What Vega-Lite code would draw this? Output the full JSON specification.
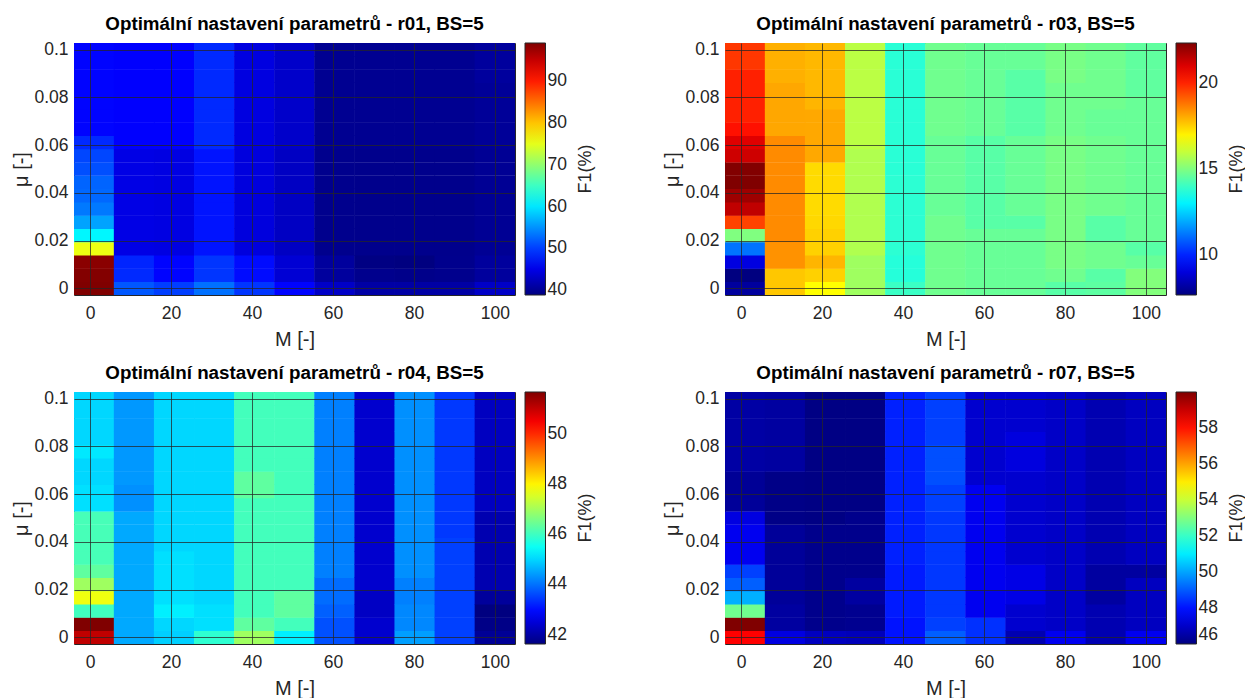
{
"$schema":"https://vega.github.io/schema/vega-lite/v6.json",
"background":"white",
"padding":{"left":11,"top":14,"right":5,"bottom":2},
"config":{
"font":"Liberation Sans",
"view":{"stroke":"#262626","strokeWidth":1},
"axis":{"labelFont":"Liberation Sans","labelFontSize":17.5,"labelColor":"#262626","titleFont":"Liberation Sans","titleFontSize":20,"titleFontWeight":"normal","titleColor":"#262626","grid":true,"gridColor":"#262626","gridOpacity":0.75,"gridWidth":1,"ticks":false,"domain":false,"zindex":1},
"title":{"font":"Liberation Sans","fontSize":18.8,"fontWeight":"bold","color":"#000000","offset":7},
"legend":{"orient":"right","offset":10,"gradientLength":252,"gradientThickness":20.5,"gradientStrokeColor":"#262626","gradientStrokeWidth":1,"labelFont":"Liberation Sans","labelFontSize":17.5,"labelColor":"#262626","labelOffset":6,"titleFont":"Liberation Sans","titleFontSize":18,"titleFontWeight":"normal","titleColor":"#262626","titleOrient":"right","titleAnchor":"middle"}
},
"datasets":{
"r01":[
{"M":1,"mu":0,"F":99.2},{"M":1,"mu":0.005556,"F":99.0},{"M":1,"mu":0.011111,"F":98.6},{"M":1,"mu":0.016667,"F":75.5},{"M":1,"mu":0.022222,"F":61.0},{"M":1,"mu":0.027778,"F":56.0},{"M":1,"mu":0.033333,"F":53.5},{"M":1,"mu":0.038889,"F":52.5},{"M":1,"mu":0.044444,"F":52.3},{"M":1,"mu":0.05,"F":51.0},{"M":1,"mu":0.055556,"F":50.5},{"M":1,"mu":0.061111,"F":48.8},{"M":1,"mu":0.066667,"F":46.5},{"M":1,"mu":0.072222,"F":46.5},{"M":1,"mu":0.077778,"F":46.5},{"M":1,"mu":0.083333,"F":46.5},{"M":1,"mu":0.088889,"F":46.5},{"M":1,"mu":0.094444,"F":46.5},{"M":1,"mu":0.1,"F":46.5},
{"M":10.9,"mu":0,"F":51.5},{"M":10.9,"mu":0.005556,"F":48.8},{"M":10.9,"mu":0.011111,"F":48.5},{"M":10.9,"mu":0.016667,"F":44.8},{"M":10.9,"mu":0.022222,"F":44.8},{"M":10.9,"mu":0.027778,"F":44.8},{"M":10.9,"mu":0.033333,"F":44.8},{"M":10.9,"mu":0.038889,"F":44.8},{"M":10.9,"mu":0.044444,"F":44.8},{"M":10.9,"mu":0.05,"F":44.8},{"M":10.9,"mu":0.055556,"F":44.8},{"M":10.9,"mu":0.061111,"F":46.3},{"M":10.9,"mu":0.066667,"F":46.3},{"M":10.9,"mu":0.072222,"F":46.3},{"M":10.9,"mu":0.077778,"F":46.3},{"M":10.9,"mu":0.083333,"F":46.3},{"M":10.9,"mu":0.088889,"F":46.3},{"M":10.9,"mu":0.094444,"F":46.3},{"M":10.9,"mu":0.1,"F":46.3},
{"M":20.8,"mu":0,"F":50.0},{"M":20.8,"mu":0.005556,"F":46.5},{"M":20.8,"mu":0.011111,"F":46.5},{"M":20.8,"mu":0.016667,"F":44.6},{"M":20.8,"mu":0.022222,"F":44.6},{"M":20.8,"mu":0.027778,"F":44.6},{"M":20.8,"mu":0.033333,"F":44.6},{"M":20.8,"mu":0.038889,"F":44.6},{"M":20.8,"mu":0.044444,"F":44.6},{"M":20.8,"mu":0.05,"F":44.6},{"M":20.8,"mu":0.055556,"F":44.6},{"M":20.8,"mu":0.061111,"F":46.3},{"M":20.8,"mu":0.066667,"F":46.3},{"M":20.8,"mu":0.072222,"F":46.3},{"M":20.8,"mu":0.077778,"F":46.3},{"M":20.8,"mu":0.083333,"F":46.3},{"M":20.8,"mu":0.088889,"F":46.3},{"M":20.8,"mu":0.094444,"F":46.3},{"M":20.8,"mu":0.1,"F":46.3},
{"M":30.7,"mu":0,"F":53.0},{"M":30.7,"mu":0.005556,"F":49.5},{"M":30.7,"mu":0.011111,"F":49.5},{"M":30.7,"mu":0.016667,"F":47.5},{"M":30.7,"mu":0.022222,"F":47.5},{"M":30.7,"mu":0.027778,"F":47.5},{"M":30.7,"mu":0.033333,"F":47.5},{"M":30.7,"mu":0.038889,"F":47.5},{"M":30.7,"mu":0.044444,"F":47.5},{"M":30.7,"mu":0.05,"F":47.5},{"M":30.7,"mu":0.055556,"F":47.5},{"M":30.7,"mu":0.061111,"F":48.8},{"M":30.7,"mu":0.066667,"F":48.8},{"M":30.7,"mu":0.072222,"F":48.8},{"M":30.7,"mu":0.077778,"F":48.8},{"M":30.7,"mu":0.083333,"F":48.8},{"M":30.7,"mu":0.088889,"F":48.8},{"M":30.7,"mu":0.094444,"F":48.8},{"M":30.7,"mu":0.1,"F":48.8},
{"M":40.6,"mu":0,"F":49.5},{"M":40.6,"mu":0.005556,"F":47.0},{"M":40.6,"mu":0.011111,"F":47.0},{"M":40.6,"mu":0.016667,"F":44.3},{"M":40.6,"mu":0.022222,"F":44.3},{"M":40.6,"mu":0.027778,"F":44.3},{"M":40.6,"mu":0.033333,"F":44.3},{"M":40.6,"mu":0.038889,"F":44.3},{"M":40.6,"mu":0.044444,"F":44.3},{"M":40.6,"mu":0.05,"F":44.3},{"M":40.6,"mu":0.055556,"F":44.3},{"M":40.6,"mu":0.061111,"F":44.5},{"M":40.6,"mu":0.066667,"F":44.5},{"M":40.6,"mu":0.072222,"F":44.5},{"M":40.6,"mu":0.077778,"F":44.5},{"M":40.6,"mu":0.083333,"F":44.5},{"M":40.6,"mu":0.088889,"F":44.5},{"M":40.6,"mu":0.094444,"F":44.5},{"M":40.6,"mu":0.1,"F":44.5},
{"M":50.5,"mu":0,"F":46.5},{"M":50.5,"mu":0.005556,"F":43.8},{"M":50.5,"mu":0.011111,"F":43.8},{"M":50.5,"mu":0.016667,"F":42.8},{"M":50.5,"mu":0.022222,"F":42.8},{"M":50.5,"mu":0.027778,"F":42.8},{"M":50.5,"mu":0.033333,"F":42.8},{"M":50.5,"mu":0.038889,"F":42.8},{"M":50.5,"mu":0.044444,"F":42.8},{"M":50.5,"mu":0.05,"F":42.8},{"M":50.5,"mu":0.055556,"F":42.8},{"M":50.5,"mu":0.061111,"F":43.2},{"M":50.5,"mu":0.066667,"F":43.2},{"M":50.5,"mu":0.072222,"F":43.2},{"M":50.5,"mu":0.077778,"F":43.2},{"M":50.5,"mu":0.083333,"F":43.2},{"M":50.5,"mu":0.088889,"F":43.2},{"M":50.5,"mu":0.094444,"F":43.2},{"M":50.5,"mu":0.1,"F":43.2},
{"M":60.4,"mu":0,"F":43.0},{"M":60.4,"mu":0.005556,"F":40.5},{"M":60.4,"mu":0.011111,"F":40.5},{"M":60.4,"mu":0.016667,"F":39.6},{"M":60.4,"mu":0.022222,"F":39.6},{"M":60.4,"mu":0.027778,"F":39.6},{"M":60.4,"mu":0.033333,"F":39.6},{"M":60.4,"mu":0.038889,"F":39.6},{"M":60.4,"mu":0.044444,"F":39.6},{"M":60.4,"mu":0.05,"F":39.6},{"M":60.4,"mu":0.055556,"F":39.6},{"M":60.4,"mu":0.061111,"F":39.8},{"M":60.4,"mu":0.066667,"F":39.8},{"M":60.4,"mu":0.072222,"F":39.8},{"M":60.4,"mu":0.077778,"F":39.8},{"M":60.4,"mu":0.083333,"F":39.8},{"M":60.4,"mu":0.088889,"F":39.8},{"M":60.4,"mu":0.094444,"F":39.8},{"M":60.4,"mu":0.1,"F":39.8},
{"M":70.3,"mu":0,"F":41.0},{"M":70.3,"mu":0.005556,"F":39.6},{"M":70.3,"mu":0.011111,"F":39.0},{"M":70.3,"mu":0.016667,"F":39.5},{"M":70.3,"mu":0.022222,"F":39.5},{"M":70.3,"mu":0.027778,"F":39.5},{"M":70.3,"mu":0.033333,"F":39.5},{"M":70.3,"mu":0.038889,"F":39.5},{"M":70.3,"mu":0.044444,"F":39.5},{"M":70.3,"mu":0.05,"F":39.5},{"M":70.3,"mu":0.055556,"F":39.5},{"M":70.3,"mu":0.061111,"F":39.8},{"M":70.3,"mu":0.066667,"F":39.8},{"M":70.3,"mu":0.072222,"F":39.8},{"M":70.3,"mu":0.077778,"F":39.8},{"M":70.3,"mu":0.083333,"F":39.8},{"M":70.3,"mu":0.088889,"F":39.8},{"M":70.3,"mu":0.094444,"F":39.8},{"M":70.3,"mu":0.1,"F":39.8},
{"M":80.2,"mu":0,"F":41.0},{"M":80.2,"mu":0.005556,"F":39.4},{"M":80.2,"mu":0.011111,"F":38.8},{"M":80.2,"mu":0.016667,"F":39.5},{"M":80.2,"mu":0.022222,"F":39.5},{"M":80.2,"mu":0.027778,"F":39.5},{"M":80.2,"mu":0.033333,"F":39.5},{"M":80.2,"mu":0.038889,"F":39.5},{"M":80.2,"mu":0.044444,"F":39.5},{"M":80.2,"mu":0.05,"F":39.5},{"M":80.2,"mu":0.055556,"F":39.5},{"M":80.2,"mu":0.061111,"F":39.8},{"M":80.2,"mu":0.066667,"F":39.8},{"M":80.2,"mu":0.072222,"F":39.8},{"M":80.2,"mu":0.077778,"F":39.8},{"M":80.2,"mu":0.083333,"F":39.8},{"M":80.2,"mu":0.088889,"F":39.8},{"M":80.2,"mu":0.094444,"F":39.8},{"M":80.2,"mu":0.1,"F":39.8},
{"M":90.1,"mu":0,"F":41.0},{"M":90.1,"mu":0.005556,"F":39.6},{"M":90.1,"mu":0.011111,"F":39.6},{"M":90.1,"mu":0.016667,"F":39.5},{"M":90.1,"mu":0.022222,"F":39.5},{"M":90.1,"mu":0.027778,"F":39.5},{"M":90.1,"mu":0.033333,"F":39.5},{"M":90.1,"mu":0.038889,"F":39.5},{"M":90.1,"mu":0.044444,"F":39.5},{"M":90.1,"mu":0.05,"F":39.5},{"M":90.1,"mu":0.055556,"F":39.5},{"M":90.1,"mu":0.061111,"F":39.8},{"M":90.1,"mu":0.066667,"F":39.8},{"M":90.1,"mu":0.072222,"F":39.8},{"M":90.1,"mu":0.077778,"F":39.8},{"M":90.1,"mu":0.083333,"F":39.8},{"M":90.1,"mu":0.088889,"F":39.8},{"M":90.1,"mu":0.094444,"F":39.8},{"M":90.1,"mu":0.1,"F":39.8},
{"M":100,"mu":0,"F":43.0},{"M":100,"mu":0.005556,"F":40.5},{"M":100,"mu":0.011111,"F":40.5},{"M":100,"mu":0.016667,"F":40.0},{"M":100,"mu":0.022222,"F":40.0},{"M":100,"mu":0.027778,"F":40.0},{"M":100,"mu":0.033333,"F":40.0},{"M":100,"mu":0.038889,"F":40.0},{"M":100,"mu":0.044444,"F":40.0},{"M":100,"mu":0.05,"F":40.0},{"M":100,"mu":0.055556,"F":40.0},{"M":100,"mu":0.061111,"F":40.2},{"M":100,"mu":0.066667,"F":40.2},{"M":100,"mu":0.072222,"F":40.2},{"M":100,"mu":0.077778,"F":40.2},{"M":100,"mu":0.083333,"F":40.2},{"M":100,"mu":0.088889,"F":40.5},{"M":100,"mu":0.094444,"F":40.5},{"M":100,"mu":0.1,"F":40.5}
],
"r03":[
{"M":1,"mu":0,"F":8.1},{"M":1,"mu":0.005556,"F":7.67},{"M":1,"mu":0.011111,"F":9.06},{"M":1,"mu":0.016667,"F":11.15},{"M":1,"mu":0.022222,"F":15.0},{"M":1,"mu":0.027778,"F":19.55},{"M":1,"mu":0.033333,"F":21.4},{"M":1,"mu":0.038889,"F":21.9},{"M":1,"mu":0.044444,"F":22.33},{"M":1,"mu":0.05,"F":22.3},{"M":1,"mu":0.055556,"F":21.2},{"M":1,"mu":0.061111,"F":20.94},{"M":1,"mu":0.066667,"F":20.27},{"M":1,"mu":0.072222,"F":20.04},{"M":1,"mu":0.077778,"F":20.04},{"M":1,"mu":0.083333,"F":20.04},{"M":1,"mu":0.088889,"F":20.04},{"M":1,"mu":0.094444,"F":19.7},{"M":1,"mu":0.1,"F":19.7},
{"M":10.9,"mu":0,"F":17.64},{"M":10.9,"mu":0.005556,"F":17.64},{"M":10.9,"mu":0.011111,"F":18.4},{"M":10.9,"mu":0.016667,"F":18.4},{"M":10.9,"mu":0.022222,"F":18.5},{"M":10.9,"mu":0.027778,"F":18.5},{"M":10.9,"mu":0.033333,"F":18.5},{"M":10.9,"mu":0.038889,"F":18.5},{"M":10.9,"mu":0.044444,"F":18.5},{"M":10.9,"mu":0.05,"F":18.5},{"M":10.9,"mu":0.055556,"F":18.5},{"M":10.9,"mu":0.061111,"F":18.5},{"M":10.9,"mu":0.066667,"F":18.1},{"M":10.9,"mu":0.072222,"F":18.1},{"M":10.9,"mu":0.077778,"F":18.1},{"M":10.9,"mu":0.083333,"F":18.1},{"M":10.9,"mu":0.088889,"F":17.97},{"M":10.9,"mu":0.094444,"F":17.97},{"M":10.9,"mu":0.1,"F":17.97},
{"M":20.8,"mu":0,"F":16.83},{"M":20.8,"mu":0.005556,"F":17.5},{"M":20.8,"mu":0.011111,"F":17.9},{"M":20.8,"mu":0.016667,"F":17.5},{"M":20.8,"mu":0.022222,"F":17.5},{"M":20.8,"mu":0.027778,"F":17.4},{"M":20.8,"mu":0.033333,"F":17.35},{"M":20.8,"mu":0.038889,"F":17.35},{"M":20.8,"mu":0.044444,"F":17.35},{"M":20.8,"mu":0.05,"F":17.35},{"M":20.8,"mu":0.055556,"F":18.08},{"M":20.8,"mu":0.061111,"F":18.08},{"M":20.8,"mu":0.066667,"F":18.08},{"M":20.8,"mu":0.072222,"F":18.08},{"M":20.8,"mu":0.077778,"F":17.9},{"M":20.8,"mu":0.083333,"F":17.85},{"M":20.8,"mu":0.088889,"F":17.85},{"M":20.8,"mu":0.094444,"F":17.85},{"M":20.8,"mu":0.1,"F":17.85},
{"M":30.7,"mu":0,"F":15.45},{"M":30.7,"mu":0.005556,"F":15.45},{"M":30.7,"mu":0.011111,"F":15.45},{"M":30.7,"mu":0.016667,"F":15.7},{"M":30.7,"mu":0.022222,"F":15.7},{"M":30.7,"mu":0.027778,"F":15.7},{"M":30.7,"mu":0.033333,"F":15.7},{"M":30.7,"mu":0.038889,"F":15.7},{"M":30.7,"mu":0.044444,"F":15.7},{"M":30.7,"mu":0.05,"F":15.7},{"M":30.7,"mu":0.055556,"F":15.7},{"M":30.7,"mu":0.061111,"F":15.85},{"M":30.7,"mu":0.066667,"F":15.85},{"M":30.7,"mu":0.072222,"F":15.85},{"M":30.7,"mu":0.077778,"F":15.85},{"M":30.7,"mu":0.083333,"F":15.85},{"M":30.7,"mu":0.088889,"F":15.85},{"M":30.7,"mu":0.094444,"F":15.85},{"M":30.7,"mu":0.1,"F":15.85},
{"M":40.6,"mu":0,"F":14.0},{"M":40.6,"mu":0.005556,"F":13.7},{"M":40.6,"mu":0.011111,"F":13.7},{"M":40.6,"mu":0.016667,"F":13.8},{"M":40.6,"mu":0.022222,"F":13.8},{"M":40.6,"mu":0.027778,"F":13.8},{"M":40.6,"mu":0.033333,"F":13.8},{"M":40.6,"mu":0.038889,"F":13.8},{"M":40.6,"mu":0.044444,"F":13.8},{"M":40.6,"mu":0.05,"F":13.75},{"M":40.6,"mu":0.055556,"F":13.75},{"M":40.6,"mu":0.061111,"F":13.75},{"M":40.6,"mu":0.066667,"F":13.75},{"M":40.6,"mu":0.072222,"F":13.75},{"M":40.6,"mu":0.077778,"F":13.75},{"M":40.6,"mu":0.083333,"F":13.75},{"M":40.6,"mu":0.088889,"F":13.75},{"M":40.6,"mu":0.094444,"F":13.75},{"M":40.6,"mu":0.1,"F":13.75},
{"M":50.5,"mu":0,"F":14.78},{"M":50.5,"mu":0.005556,"F":14.78},{"M":50.5,"mu":0.011111,"F":14.78},{"M":50.5,"mu":0.016667,"F":14.78},{"M":50.5,"mu":0.022222,"F":14.78},{"M":50.5,"mu":0.027778,"F":14.78},{"M":50.5,"mu":0.033333,"F":14.66},{"M":50.5,"mu":0.038889,"F":14.66},{"M":50.5,"mu":0.044444,"F":14.66},{"M":50.5,"mu":0.05,"F":14.66},{"M":50.5,"mu":0.055556,"F":14.66},{"M":50.5,"mu":0.061111,"F":14.66},{"M":50.5,"mu":0.066667,"F":14.78},{"M":50.5,"mu":0.072222,"F":14.78},{"M":50.5,"mu":0.077778,"F":14.78},{"M":50.5,"mu":0.083333,"F":14.78},{"M":50.5,"mu":0.088889,"F":14.78},{"M":50.5,"mu":0.094444,"F":14.78},{"M":50.5,"mu":0.1,"F":14.78},
{"M":60.4,"mu":0,"F":14.66},{"M":60.4,"mu":0.005556,"F":14.66},{"M":60.4,"mu":0.011111,"F":14.66},{"M":60.4,"mu":0.016667,"F":14.66},{"M":60.4,"mu":0.022222,"F":14.66},{"M":60.4,"mu":0.027778,"F":14.43},{"M":60.4,"mu":0.033333,"F":14.43},{"M":60.4,"mu":0.038889,"F":14.43},{"M":60.4,"mu":0.044444,"F":14.43},{"M":60.4,"mu":0.05,"F":14.43},{"M":60.4,"mu":0.055556,"F":14.43},{"M":60.4,"mu":0.061111,"F":14.43},{"M":60.4,"mu":0.066667,"F":14.66},{"M":60.4,"mu":0.072222,"F":14.66},{"M":60.4,"mu":0.077778,"F":14.66},{"M":60.4,"mu":0.083333,"F":14.66},{"M":60.4,"mu":0.088889,"F":14.66},{"M":60.4,"mu":0.094444,"F":14.66},{"M":60.4,"mu":0.1,"F":14.66},
{"M":70.3,"mu":0,"F":14.66},{"M":70.3,"mu":0.005556,"F":14.66},{"M":70.3,"mu":0.011111,"F":14.66},{"M":70.3,"mu":0.016667,"F":14.66},{"M":70.3,"mu":0.022222,"F":14.66},{"M":70.3,"mu":0.027778,"F":14.43},{"M":70.3,"mu":0.033333,"F":14.66},{"M":70.3,"mu":0.038889,"F":14.66},{"M":70.3,"mu":0.044444,"F":14.66},{"M":70.3,"mu":0.05,"F":14.66},{"M":70.3,"mu":0.055556,"F":14.66},{"M":70.3,"mu":0.061111,"F":14.66},{"M":70.3,"mu":0.066667,"F":14.43},{"M":70.3,"mu":0.072222,"F":14.43},{"M":70.3,"mu":0.077778,"F":14.43},{"M":70.3,"mu":0.083333,"F":14.43},{"M":70.3,"mu":0.088889,"F":14.43},{"M":70.3,"mu":0.094444,"F":14.66},{"M":70.3,"mu":0.1,"F":14.66},
{"M":80.2,"mu":0,"F":14.43},{"M":80.2,"mu":0.005556,"F":14.78},{"M":80.2,"mu":0.011111,"F":14.9},{"M":80.2,"mu":0.016667,"F":14.9},{"M":80.2,"mu":0.022222,"F":14.9},{"M":80.2,"mu":0.027778,"F":14.9},{"M":80.2,"mu":0.033333,"F":14.9},{"M":80.2,"mu":0.038889,"F":14.9},{"M":80.2,"mu":0.044444,"F":14.9},{"M":80.2,"mu":0.05,"F":14.9},{"M":80.2,"mu":0.055556,"F":14.9},{"M":80.2,"mu":0.061111,"F":14.9},{"M":80.2,"mu":0.066667,"F":14.78},{"M":80.2,"mu":0.072222,"F":14.78},{"M":80.2,"mu":0.077778,"F":14.78},{"M":80.2,"mu":0.083333,"F":14.78},{"M":80.2,"mu":0.088889,"F":14.9},{"M":80.2,"mu":0.094444,"F":14.9},{"M":80.2,"mu":0.1,"F":14.9},
{"M":90.1,"mu":0,"F":14.5},{"M":90.1,"mu":0.005556,"F":14.43},{"M":90.1,"mu":0.011111,"F":14.78},{"M":90.1,"mu":0.016667,"F":14.78},{"M":90.1,"mu":0.022222,"F":14.43},{"M":90.1,"mu":0.027778,"F":14.43},{"M":90.1,"mu":0.033333,"F":14.78},{"M":90.1,"mu":0.038889,"F":14.78},{"M":90.1,"mu":0.044444,"F":14.78},{"M":90.1,"mu":0.05,"F":14.78},{"M":90.1,"mu":0.055556,"F":14.78},{"M":90.1,"mu":0.061111,"F":14.78},{"M":90.1,"mu":0.066667,"F":14.66},{"M":90.1,"mu":0.072222,"F":14.66},{"M":90.1,"mu":0.077778,"F":14.78},{"M":90.1,"mu":0.083333,"F":14.78},{"M":90.1,"mu":0.088889,"F":14.78},{"M":90.1,"mu":0.094444,"F":14.78},{"M":90.1,"mu":0.1,"F":14.78},
{"M":100,"mu":0,"F":15.05},{"M":100,"mu":0.005556,"F":15.05},{"M":100,"mu":0.011111,"F":14.66},{"M":100,"mu":0.016667,"F":14.43},{"M":100,"mu":0.022222,"F":14.66},{"M":100,"mu":0.027778,"F":14.66},{"M":100,"mu":0.033333,"F":14.66},{"M":100,"mu":0.038889,"F":14.66},{"M":100,"mu":0.044444,"F":14.66},{"M":100,"mu":0.05,"F":14.66},{"M":100,"mu":0.055556,"F":14.66},{"M":100,"mu":0.061111,"F":14.66},{"M":100,"mu":0.066667,"F":14.66},{"M":100,"mu":0.072222,"F":14.66},{"M":100,"mu":0.077778,"F":14.66},{"M":100,"mu":0.083333,"F":14.55},{"M":100,"mu":0.088889,"F":14.55},{"M":100,"mu":0.094444,"F":14.55},{"M":100,"mu":0.1,"F":14.55}
],
"r04":[
{"M":1,"mu":0,"F":51.03},{"M":1,"mu":0.005556,"F":51.66},{"M":1,"mu":0.011111,"F":46.02},{"M":1,"mu":0.016667,"F":47.75},{"M":1,"mu":0.022222,"F":46.95},{"M":1,"mu":0.027778,"F":46.33},{"M":1,"mu":0.033333,"F":46.09},{"M":1,"mu":0.038889,"F":46.09},{"M":1,"mu":0.044444,"F":46.09},{"M":1,"mu":0.05,"F":46.09},{"M":1,"mu":0.055556,"F":45.09},{"M":1,"mu":0.061111,"F":45.09},{"M":1,"mu":0.066667,"F":45.0},{"M":1,"mu":0.072222,"F":45.0},{"M":1,"mu":0.077778,"F":45.17},{"M":1,"mu":0.083333,"F":45.0},{"M":1,"mu":0.088889,"F":45.0},{"M":1,"mu":0.094444,"F":45.0},{"M":1,"mu":0.1,"F":45.0},
{"M":10.9,"mu":0,"F":44.55},{"M":10.9,"mu":0.005556,"F":44.55},{"M":10.9,"mu":0.011111,"F":44.55},{"M":10.9,"mu":0.016667,"F":44.55},{"M":10.9,"mu":0.022222,"F":44.55},{"M":10.9,"mu":0.027778,"F":44.55},{"M":10.9,"mu":0.033333,"F":44.55},{"M":10.9,"mu":0.038889,"F":44.55},{"M":10.9,"mu":0.044444,"F":44.55},{"M":10.9,"mu":0.05,"F":44.55},{"M":10.9,"mu":0.055556,"F":44.3},{"M":10.9,"mu":0.061111,"F":44.3},{"M":10.9,"mu":0.066667,"F":44.38},{"M":10.9,"mu":0.072222,"F":44.38},{"M":10.9,"mu":0.077778,"F":44.38},{"M":10.9,"mu":0.083333,"F":44.38},{"M":10.9,"mu":0.088889,"F":44.38},{"M":10.9,"mu":0.094444,"F":44.38},{"M":10.9,"mu":0.1,"F":44.38},
{"M":20.8,"mu":0,"F":44.93},{"M":20.8,"mu":0.005556,"F":45.0},{"M":20.8,"mu":0.011111,"F":45.24},{"M":20.8,"mu":0.016667,"F":45.09},{"M":20.8,"mu":0.022222,"F":45.09},{"M":20.8,"mu":0.027778,"F":45.09},{"M":20.8,"mu":0.033333,"F":45.09},{"M":20.8,"mu":0.038889,"F":45.0},{"M":20.8,"mu":0.044444,"F":45.0},{"M":20.8,"mu":0.05,"F":45.0},{"M":20.8,"mu":0.055556,"F":45.0},{"M":20.8,"mu":0.061111,"F":45.0},{"M":20.8,"mu":0.066667,"F":45.0},{"M":20.8,"mu":0.072222,"F":45.0},{"M":20.8,"mu":0.077778,"F":45.0},{"M":20.8,"mu":0.083333,"F":45.0},{"M":20.8,"mu":0.088889,"F":45.0},{"M":20.8,"mu":0.094444,"F":45.0},{"M":20.8,"mu":0.1,"F":45.0},
{"M":30.7,"mu":0,"F":45.84},{"M":30.7,"mu":0.005556,"F":45.09},{"M":30.7,"mu":0.011111,"F":45.09},{"M":30.7,"mu":0.016667,"F":45.0},{"M":30.7,"mu":0.022222,"F":45.0},{"M":30.7,"mu":0.027778,"F":45.0},{"M":30.7,"mu":0.033333,"F":45.0},{"M":30.7,"mu":0.038889,"F":45.0},{"M":30.7,"mu":0.044444,"F":45.0},{"M":30.7,"mu":0.05,"F":45.0},{"M":30.7,"mu":0.055556,"F":45.0},{"M":30.7,"mu":0.061111,"F":45.0},{"M":30.7,"mu":0.066667,"F":45.0},{"M":30.7,"mu":0.072222,"F":45.0},{"M":30.7,"mu":0.077778,"F":45.0},{"M":30.7,"mu":0.083333,"F":45.0},{"M":30.7,"mu":0.088889,"F":45.0},{"M":30.7,"mu":0.094444,"F":45.0},{"M":30.7,"mu":0.1,"F":45.0},
{"M":40.6,"mu":0,"F":46.95},{"M":40.6,"mu":0.005556,"F":46.33},{"M":40.6,"mu":0.011111,"F":46.05},{"M":40.6,"mu":0.016667,"F":46.05},{"M":40.6,"mu":0.022222,"F":46.05},{"M":40.6,"mu":0.027778,"F":46.05},{"M":40.6,"mu":0.033333,"F":46.05},{"M":40.6,"mu":0.038889,"F":46.05},{"M":40.6,"mu":0.044444,"F":46.05},{"M":40.6,"mu":0.05,"F":46.05},{"M":40.6,"mu":0.055556,"F":46.05},{"M":40.6,"mu":0.061111,"F":46.33},{"M":40.6,"mu":0.066667,"F":46.33},{"M":40.6,"mu":0.072222,"F":46.05},{"M":40.6,"mu":0.077778,"F":46.05},{"M":40.6,"mu":0.083333,"F":46.05},{"M":40.6,"mu":0.088889,"F":46.05},{"M":40.6,"mu":0.094444,"F":46.05},{"M":40.6,"mu":0.1,"F":46.05},
{"M":50.5,"mu":0,"F":45.24},{"M":50.5,"mu":0.005556,"F":46.05},{"M":50.5,"mu":0.011111,"F":46.33},{"M":50.5,"mu":0.016667,"F":46.33},{"M":50.5,"mu":0.022222,"F":46.05},{"M":50.5,"mu":0.027778,"F":46.05},{"M":50.5,"mu":0.033333,"F":46.05},{"M":50.5,"mu":0.038889,"F":46.05},{"M":50.5,"mu":0.044444,"F":46.05},{"M":50.5,"mu":0.05,"F":46.05},{"M":50.5,"mu":0.055556,"F":46.05},{"M":50.5,"mu":0.061111,"F":46.05},{"M":50.5,"mu":0.066667,"F":46.05},{"M":50.5,"mu":0.072222,"F":46.05},{"M":50.5,"mu":0.077778,"F":46.05},{"M":50.5,"mu":0.083333,"F":46.05},{"M":50.5,"mu":0.088889,"F":46.05},{"M":50.5,"mu":0.094444,"F":46.05},{"M":50.5,"mu":0.1,"F":46.05},
{"M":60.4,"mu":0,"F":43.67},{"M":60.4,"mu":0.005556,"F":43.67},{"M":60.4,"mu":0.011111,"F":43.83},{"M":60.4,"mu":0.016667,"F":43.95},{"M":60.4,"mu":0.022222,"F":43.95},{"M":60.4,"mu":0.027778,"F":44.14},{"M":60.4,"mu":0.033333,"F":44.14},{"M":60.4,"mu":0.038889,"F":44.14},{"M":60.4,"mu":0.044444,"F":44.14},{"M":60.4,"mu":0.05,"F":44.14},{"M":60.4,"mu":0.055556,"F":44.14},{"M":60.4,"mu":0.061111,"F":44.14},{"M":60.4,"mu":0.066667,"F":44.14},{"M":60.4,"mu":0.072222,"F":44.14},{"M":60.4,"mu":0.077778,"F":44.14},{"M":60.4,"mu":0.083333,"F":44.14},{"M":60.4,"mu":0.088889,"F":44.14},{"M":60.4,"mu":0.094444,"F":44.14},{"M":60.4,"mu":0.1,"F":44.14},
{"M":70.3,"mu":0,"F":42.4},{"M":70.3,"mu":0.005556,"F":42.4},{"M":70.3,"mu":0.011111,"F":42.3},{"M":70.3,"mu":0.016667,"F":42.3},{"M":70.3,"mu":0.022222,"F":42.4},{"M":70.3,"mu":0.027778,"F":42.4},{"M":70.3,"mu":0.033333,"F":42.4},{"M":70.3,"mu":0.038889,"F":42.4},{"M":70.3,"mu":0.044444,"F":42.4},{"M":70.3,"mu":0.05,"F":42.4},{"M":70.3,"mu":0.055556,"F":42.4},{"M":70.3,"mu":0.061111,"F":42.4},{"M":70.3,"mu":0.066667,"F":42.4},{"M":70.3,"mu":0.072222,"F":42.4},{"M":70.3,"mu":0.077778,"F":42.4},{"M":70.3,"mu":0.083333,"F":42.4},{"M":70.3,"mu":0.088889,"F":42.4},{"M":70.3,"mu":0.094444,"F":42.4},{"M":70.3,"mu":0.1,"F":42.4},
{"M":80.2,"mu":0,"F":44.45},{"M":80.2,"mu":0.005556,"F":44.22},{"M":80.2,"mu":0.011111,"F":44.22},{"M":80.2,"mu":0.016667,"F":44.14},{"M":80.2,"mu":0.022222,"F":44.14},{"M":80.2,"mu":0.027778,"F":44.3},{"M":80.2,"mu":0.033333,"F":44.3},{"M":80.2,"mu":0.038889,"F":44.3},{"M":80.2,"mu":0.044444,"F":44.3},{"M":80.2,"mu":0.05,"F":44.3},{"M":80.2,"mu":0.055556,"F":44.3},{"M":80.2,"mu":0.061111,"F":44.3},{"M":80.2,"mu":0.066667,"F":44.3},{"M":80.2,"mu":0.072222,"F":44.3},{"M":80.2,"mu":0.077778,"F":44.3},{"M":80.2,"mu":0.083333,"F":44.3},{"M":80.2,"mu":0.088889,"F":44.3},{"M":80.2,"mu":0.094444,"F":44.3},{"M":80.2,"mu":0.1,"F":44.3},
{"M":90.1,"mu":0,"F":43.51},{"M":90.1,"mu":0.005556,"F":43.51},{"M":90.1,"mu":0.011111,"F":43.51},{"M":90.1,"mu":0.016667,"F":43.51},{"M":90.1,"mu":0.022222,"F":43.51},{"M":90.1,"mu":0.027778,"F":43.51},{"M":90.1,"mu":0.033333,"F":43.51},{"M":90.1,"mu":0.038889,"F":43.51},{"M":90.1,"mu":0.044444,"F":43.43},{"M":90.1,"mu":0.05,"F":43.43},{"M":90.1,"mu":0.055556,"F":43.43},{"M":90.1,"mu":0.061111,"F":43.43},{"M":90.1,"mu":0.066667,"F":43.43},{"M":90.1,"mu":0.072222,"F":43.43},{"M":90.1,"mu":0.077778,"F":43.43},{"M":90.1,"mu":0.083333,"F":43.43},{"M":90.1,"mu":0.088889,"F":43.43},{"M":90.1,"mu":0.094444,"F":43.43},{"M":90.1,"mu":0.1,"F":43.43},
{"M":100,"mu":0,"F":41.85},{"M":100,"mu":0.005556,"F":41.7},{"M":100,"mu":0.011111,"F":41.63},{"M":100,"mu":0.016667,"F":41.9},{"M":100,"mu":0.022222,"F":42.1},{"M":100,"mu":0.027778,"F":42.1},{"M":100,"mu":0.033333,"F":42.1},{"M":100,"mu":0.038889,"F":42.1},{"M":100,"mu":0.044444,"F":42.1},{"M":100,"mu":0.05,"F":42.1},{"M":100,"mu":0.055556,"F":42.26},{"M":100,"mu":0.061111,"F":42.26},{"M":100,"mu":0.066667,"F":42.26},{"M":100,"mu":0.072222,"F":42.26},{"M":100,"mu":0.077778,"F":42.26},{"M":100,"mu":0.083333,"F":42.26},{"M":100,"mu":0.088889,"F":42.26},{"M":100,"mu":0.094444,"F":42.26},{"M":100,"mu":0.1,"F":42.26}
],
"r07":[
{"M":1,"mu":0,"F":58.25},{"M":1,"mu":0.005556,"F":60.0},{"M":1,"mu":0.011111,"F":52.79},{"M":1,"mu":0.016667,"F":50.16},{"M":1,"mu":0.022222,"F":49.06},{"M":1,"mu":0.027778,"F":48.63},{"M":1,"mu":0.033333,"F":47.54},{"M":1,"mu":0.038889,"F":47.54},{"M":1,"mu":0.044444,"F":47.54},{"M":1,"mu":0.05,"F":47.33},{"M":1,"mu":0.055556,"F":46.35},{"M":1,"mu":0.061111,"F":46.3},{"M":1,"mu":0.066667,"F":46.3},{"M":1,"mu":0.072222,"F":46.5},{"M":1,"mu":0.077778,"F":46.5},{"M":1,"mu":0.083333,"F":46.5},{"M":1,"mu":0.088889,"F":46.5},{"M":1,"mu":0.094444,"F":46.5},{"M":1,"mu":0.1,"F":46.5},
{"M":10.9,"mu":0,"F":47.33},{"M":10.9,"mu":0.005556,"F":46.44},{"M":10.9,"mu":0.011111,"F":46.44},{"M":10.9,"mu":0.016667,"F":46.35},{"M":10.9,"mu":0.022222,"F":46.35},{"M":10.9,"mu":0.027778,"F":46.35},{"M":10.9,"mu":0.033333,"F":46.35},{"M":10.9,"mu":0.038889,"F":46.35},{"M":10.9,"mu":0.044444,"F":46.35},{"M":10.9,"mu":0.05,"F":46.1},{"M":10.9,"mu":0.055556,"F":46.1},{"M":10.9,"mu":0.061111,"F":46.1},{"M":10.9,"mu":0.066667,"F":46.1},{"M":10.9,"mu":0.072222,"F":46.44},{"M":10.9,"mu":0.077778,"F":46.44},{"M":10.9,"mu":0.083333,"F":46.44},{"M":10.9,"mu":0.088889,"F":46.44},{"M":10.9,"mu":0.094444,"F":46.44},{"M":10.9,"mu":0.1,"F":46.44},
{"M":20.8,"mu":0,"F":46.875},{"M":20.8,"mu":0.005556,"F":46.17},{"M":20.8,"mu":0.011111,"F":46.17},{"M":20.8,"mu":0.016667,"F":46.17},{"M":20.8,"mu":0.022222,"F":46.17},{"M":20.8,"mu":0.027778,"F":46.17},{"M":20.8,"mu":0.033333,"F":46.17},{"M":20.8,"mu":0.038889,"F":46.17},{"M":20.8,"mu":0.044444,"F":46.17},{"M":20.8,"mu":0.05,"F":46.05},{"M":20.8,"mu":0.055556,"F":46.05},{"M":20.8,"mu":0.061111,"F":46.05},{"M":20.8,"mu":0.066667,"F":46.05},{"M":20.8,"mu":0.072222,"F":46.05},{"M":20.8,"mu":0.077778,"F":46.05},{"M":20.8,"mu":0.083333,"F":46.05},{"M":20.8,"mu":0.088889,"F":46.05},{"M":20.8,"mu":0.094444,"F":46.05},{"M":20.8,"mu":0.1,"F":46.05},
{"M":30.7,"mu":0,"F":46.8},{"M":30.7,"mu":0.005556,"F":46.22},{"M":30.7,"mu":0.011111,"F":46.22},{"M":30.7,"mu":0.016667,"F":46.44},{"M":30.7,"mu":0.022222,"F":46.44},{"M":30.7,"mu":0.027778,"F":46.17},{"M":30.7,"mu":0.033333,"F":46.17},{"M":30.7,"mu":0.038889,"F":46.17},{"M":30.7,"mu":0.044444,"F":46.17},{"M":30.7,"mu":0.05,"F":46.17},{"M":30.7,"mu":0.055556,"F":46.05},{"M":30.7,"mu":0.061111,"F":46.05},{"M":30.7,"mu":0.066667,"F":46.05},{"M":30.7,"mu":0.072222,"F":46.05},{"M":30.7,"mu":0.077778,"F":46.05},{"M":30.7,"mu":0.083333,"F":46.05},{"M":30.7,"mu":0.088889,"F":46.05},{"M":30.7,"mu":0.094444,"F":46.05},{"M":30.7,"mu":0.1,"F":46.05},
{"M":40.6,"mu":0,"F":48.0},{"M":40.6,"mu":0.005556,"F":48.0},{"M":40.6,"mu":0.011111,"F":48.1},{"M":40.6,"mu":0.016667,"F":48.1},{"M":40.6,"mu":0.022222,"F":48.1},{"M":40.6,"mu":0.027778,"F":48.1},{"M":40.6,"mu":0.033333,"F":48.19},{"M":40.6,"mu":0.038889,"F":48.19},{"M":40.6,"mu":0.044444,"F":48.19},{"M":40.6,"mu":0.05,"F":48.19},{"M":40.6,"mu":0.055556,"F":48.19},{"M":40.6,"mu":0.061111,"F":48.19},{"M":40.6,"mu":0.066667,"F":48.19},{"M":40.6,"mu":0.072222,"F":48.19},{"M":40.6,"mu":0.077778,"F":48.19},{"M":40.6,"mu":0.083333,"F":48.19},{"M":40.6,"mu":0.088889,"F":48.19},{"M":40.6,"mu":0.094444,"F":48.19},{"M":40.6,"mu":0.1,"F":48.19},
{"M":50.5,"mu":0,"F":49.06},{"M":50.5,"mu":0.005556,"F":48.63},{"M":50.5,"mu":0.011111,"F":48.5},{"M":50.5,"mu":0.016667,"F":48.5},{"M":50.5,"mu":0.022222,"F":48.5},{"M":50.5,"mu":0.027778,"F":48.5},{"M":50.5,"mu":0.033333,"F":48.5},{"M":50.5,"mu":0.038889,"F":48.5},{"M":50.5,"mu":0.044444,"F":48.5},{"M":50.5,"mu":0.05,"F":48.5},{"M":50.5,"mu":0.055556,"F":48.63},{"M":50.5,"mu":0.061111,"F":48.63},{"M":50.5,"mu":0.066667,"F":48.84},{"M":50.5,"mu":0.072222,"F":48.84},{"M":50.5,"mu":0.077778,"F":48.84},{"M":50.5,"mu":0.083333,"F":48.63},{"M":50.5,"mu":0.088889,"F":48.63},{"M":50.5,"mu":0.094444,"F":48.63},{"M":50.5,"mu":0.1,"F":48.63},
{"M":60.4,"mu":0,"F":48.41},{"M":60.4,"mu":0.005556,"F":48.41},{"M":60.4,"mu":0.011111,"F":47.54},{"M":60.4,"mu":0.016667,"F":47.54},{"M":60.4,"mu":0.022222,"F":47.54},{"M":60.4,"mu":0.027778,"F":47.54},{"M":60.4,"mu":0.033333,"F":47.54},{"M":60.4,"mu":0.038889,"F":47.54},{"M":60.4,"mu":0.044444,"F":47.54},{"M":60.4,"mu":0.05,"F":47.54},{"M":60.4,"mu":0.055556,"F":47.54},{"M":60.4,"mu":0.061111,"F":47.54},{"M":60.4,"mu":0.066667,"F":47.09},{"M":60.4,"mu":0.072222,"F":47.09},{"M":60.4,"mu":0.077778,"F":47.09},{"M":60.4,"mu":0.083333,"F":47.09},{"M":60.4,"mu":0.088889,"F":47.09},{"M":60.4,"mu":0.094444,"F":47.09},{"M":60.4,"mu":0.1,"F":47.09},
{"M":70.3,"mu":0,"F":46.67},{"M":70.3,"mu":0.005556,"F":47.09},{"M":70.3,"mu":0.011111,"F":47.09},{"M":70.3,"mu":0.016667,"F":47.4},{"M":70.3,"mu":0.022222,"F":47.4},{"M":70.3,"mu":0.027778,"F":47.4},{"M":70.3,"mu":0.033333,"F":47.09},{"M":70.3,"mu":0.038889,"F":47.09},{"M":70.3,"mu":0.044444,"F":47.09},{"M":70.3,"mu":0.05,"F":47.09},{"M":70.3,"mu":0.055556,"F":47.09},{"M":70.3,"mu":0.061111,"F":47.09},{"M":70.3,"mu":0.066667,"F":47.09},{"M":70.3,"mu":0.072222,"F":47.3},{"M":70.3,"mu":0.077778,"F":47.3},{"M":70.3,"mu":0.083333,"F":47.3},{"M":70.3,"mu":0.088889,"F":47.09},{"M":70.3,"mu":0.094444,"F":47.09},{"M":70.3,"mu":0.1,"F":47.09},
{"M":80.2,"mu":0,"F":47.54},{"M":80.2,"mu":0.005556,"F":46.98},{"M":80.2,"mu":0.011111,"F":46.98},{"M":80.2,"mu":0.016667,"F":46.98},{"M":80.2,"mu":0.022222,"F":46.98},{"M":80.2,"mu":0.027778,"F":46.98},{"M":80.2,"mu":0.033333,"F":46.98},{"M":80.2,"mu":0.038889,"F":46.98},{"M":80.2,"mu":0.044444,"F":46.98},{"M":80.2,"mu":0.05,"F":46.98},{"M":80.2,"mu":0.055556,"F":46.98},{"M":80.2,"mu":0.061111,"F":46.98},{"M":80.2,"mu":0.066667,"F":46.98},{"M":80.2,"mu":0.072222,"F":46.98},{"M":80.2,"mu":0.077778,"F":46.98},{"M":80.2,"mu":0.083333,"F":46.98},{"M":80.2,"mu":0.088889,"F":46.98},{"M":80.2,"mu":0.094444,"F":46.98},{"M":80.2,"mu":0.1,"F":46.98},
{"M":90.1,"mu":0,"F":46.67},{"M":90.1,"mu":0.005556,"F":46.67},{"M":90.1,"mu":0.011111,"F":46.67},{"M":90.1,"mu":0.016667,"F":46.44},{"M":90.1,"mu":0.022222,"F":46.44},{"M":90.1,"mu":0.027778,"F":46.44},{"M":90.1,"mu":0.033333,"F":46.67},{"M":90.1,"mu":0.038889,"F":46.67},{"M":90.1,"mu":0.044444,"F":46.67},{"M":90.1,"mu":0.05,"F":46.67},{"M":90.1,"mu":0.055556,"F":46.67},{"M":90.1,"mu":0.061111,"F":46.67},{"M":90.1,"mu":0.066667,"F":46.67},{"M":90.1,"mu":0.072222,"F":46.67},{"M":90.1,"mu":0.077778,"F":46.67},{"M":90.1,"mu":0.083333,"F":46.67},{"M":90.1,"mu":0.088889,"F":46.67},{"M":90.1,"mu":0.094444,"F":46.67},{"M":90.1,"mu":0.1,"F":46.67},
{"M":100,"mu":0,"F":47.54},{"M":100,"mu":0.005556,"F":46.875},{"M":100,"mu":0.011111,"F":46.875},{"M":100,"mu":0.016667,"F":46.875},{"M":100,"mu":0.022222,"F":46.875},{"M":100,"mu":0.027778,"F":46.44},{"M":100,"mu":0.033333,"F":46.875},{"M":100,"mu":0.038889,"F":46.875},{"M":100,"mu":0.044444,"F":46.875},{"M":100,"mu":0.05,"F":46.875},{"M":100,"mu":0.055556,"F":46.875},{"M":100,"mu":0.061111,"F":46.875},{"M":100,"mu":0.066667,"F":46.875},{"M":100,"mu":0.072222,"F":46.875},{"M":100,"mu":0.077778,"F":46.875},{"M":100,"mu":0.083333,"F":46.875},{"M":100,"mu":0.088889,"F":46.875},{"M":100,"mu":0.094444,"F":46.875},{"M":100,"mu":0.1,"F":46.875}
]
},
"spacing":13,
"resolve":{"scale":{"color":"independent","x":"independent","y":"independent"},"legend":{"color":"independent"}},
"vconcat":[
{"spacing":66,"resolve":{"scale":{"color":"independent","x":"independent","y":"independent"},"legend":{"color":"independent"}},"hconcat":[
{"width":441,"height":252,"title":"Optimální nastavení parametrů - r01, BS=5","data":{"name":"r01"},
"mark":{"type":"rect","width":40.6,"height":13.7,"clip":true},
"encoding":{
"x":{"field":"M","type":"quantitative","scale":{"domain":[-3.95,104.95],"nice":false,"zero":false},"axis":{"values":[0,20,40,60,80,100],"title":"M [-]","labelPadding":9,"titlePadding":8,"zindex":1}},
"y":{"field":"mu","type":"quantitative","scale":{"domain":[-0.002778,0.102778],"nice":false,"zero":false},"axis":{"values":[0,0.02,0.04,0.06,0.08,0.1],"format":"~g","title":"μ [-]","labelPadding":6,"titlePadding":2,"zindex":1}},
"color":{"field":"F","type":"quantitative","scale":{"domain":[38.8,46.35,61.45,76.55,91.65,99.2],"range":["#000080","#0000ff","#00ffff","#ffff00","#ff0000","#800000"],"interpolate":"rgb"},"legend":{"title":"F1(%)","values":[40,50,60,70,80,90],"encode":{"title":{"update":{"angle":{"value":270},"baseline":{"value":"top"},"dy":{"value":5}}}}}}}},
{"width":441,"height":252,"title":"Optimální nastavení parametrů - r03, BS=5","data":{"name":"r03"},
"mark":{"type":"rect","width":40.6,"height":13.7,"clip":true},
"encoding":{
"x":{"field":"M","type":"quantitative","scale":{"domain":[-3.95,104.95],"nice":false,"zero":false},"axis":{"values":[0,20,40,60,80,100],"title":"M [-]","labelPadding":9,"titlePadding":8,"zindex":1}},
"y":{"field":"mu","type":"quantitative","scale":{"domain":[-0.002778,0.102778],"nice":false,"zero":false},"axis":{"values":[0,0.02,0.04,0.06,0.08,0.1],"format":"~g","title":"μ [-]","labelPadding":6,"titlePadding":2,"zindex":1}},
"color":{"field":"F","type":"quantitative","scale":{"domain":[7.67,9.5025,13.1675,16.8325,20.4975,22.33],"range":["#000080","#0000ff","#00ffff","#ffff00","#ff0000","#800000"],"interpolate":"rgb"},"legend":{"title":"F1(%)","values":[10,15,20],"encode":{"title":{"update":{"angle":{"value":270},"baseline":{"value":"top"},"dy":{"value":5}}}}}}}}
]},
{"spacing":66,"resolve":{"scale":{"color":"independent","x":"independent","y":"independent"},"legend":{"color":"independent"}},"hconcat":[
{"width":441,"height":252,"title":"Optimální nastavení parametrů - r04, BS=5","data":{"name":"r04"},
"mark":{"type":"rect","width":40.6,"height":13.7,"clip":true},
"encoding":{
"x":{"field":"M","type":"quantitative","scale":{"domain":[-3.95,104.95],"nice":false,"zero":false},"axis":{"values":[0,20,40,60,80,100],"title":"M [-]","labelPadding":9,"titlePadding":8,"zindex":1}},
"y":{"field":"mu","type":"quantitative","scale":{"domain":[-0.002778,0.102778],"nice":false,"zero":false},"axis":{"values":[0,0.02,0.04,0.06,0.08,0.1],"format":"~g","title":"μ [-]","labelPadding":6,"titlePadding":2,"zindex":1}},
"color":{"field":"F","type":"quantitative","scale":{"domain":[41.63,42.884,45.391,47.899,50.406,51.66],"range":["#000080","#0000ff","#00ffff","#ffff00","#ff0000","#800000"],"interpolate":"rgb"},"legend":{"title":"F1(%)","values":[42,44,46,48,50],"encode":{"title":{"update":{"angle":{"value":270},"baseline":{"value":"top"},"dy":{"value":5}}}}}}}},
{"width":441,"height":252,"title":"Optimální nastavení parametrů - r07, BS=5","data":{"name":"r07"},
"mark":{"type":"rect","width":40.6,"height":13.7,"clip":true},
"encoding":{
"x":{"field":"M","type":"quantitative","scale":{"domain":[-3.95,104.95],"nice":false,"zero":false},"axis":{"values":[0,20,40,60,80,100],"title":"M [-]","labelPadding":9,"titlePadding":8,"zindex":1}},
"y":{"field":"mu","type":"quantitative","scale":{"domain":[-0.002778,0.102778],"nice":false,"zero":false},"axis":{"values":[0,0.02,0.04,0.06,0.08,0.1],"format":"~g","title":"μ [-]","labelPadding":6,"titlePadding":2,"zindex":1}},
"color":{"field":"F","type":"quantitative","scale":{"domain":[46,47.75,51.25,54.75,58.25,60],"range":["#000080","#0000ff","#00ffff","#ffff00","#ff0000","#800000"],"interpolate":"rgb"},"legend":{"title":"F1(%)","values":[46,48,50,52,54,56,58],"encode":{"title":{"update":{"angle":{"value":270},"baseline":{"value":"top"},"dy":{"value":5}}}}}}}}
]}
]
}
